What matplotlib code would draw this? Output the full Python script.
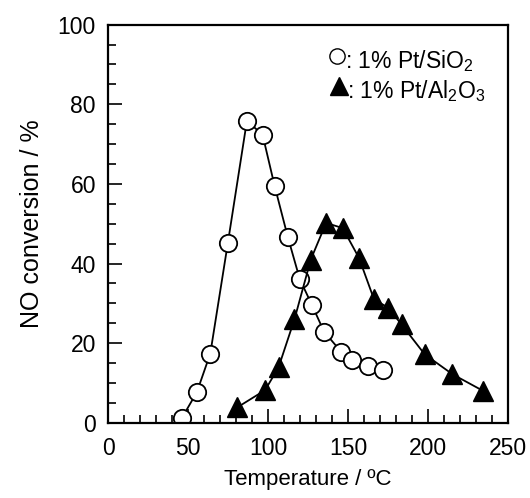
import matplotlib
matplotlib.use("Agg")
import matplotlib.pyplot as plt
from matplotlib.ticker import MultipleLocator

plt.rcParams['font.family'] = ['Liberation Sans', 'DejaVu Sans']
plt.rcParams['mathtext.fontset'] = 'custom'
plt.rcParams['mathtext.rm'] = 'Liberation Sans'

# 1% Pt/SiO2 (open circles)
sio2_temp = [46.0, 55.4, 63.8, 74.8, 86.7, 96.5, 104.0, 112.3, 119.8, 127.3, 135.0, 145.6, 152.3, 162.3, 172.0]
sio2_conv = [1.2, 7.7, 17.4, 45.2, 75.8, 72.4, 59.6, 46.7, 36.1, 29.7, 22.9, 17.9, 15.7, 14.2, 13.3]

# 1% Pt/Al2O3 (filled triangles)
al2o3_temp = [80.8, 98.1, 106.5, 116.5, 126.7, 136.3, 146.7, 156.9, 166.3, 175.2, 183.5, 198.0, 215.4, 234.2]
al2o3_conv = [3.9, 8.2, 13.9, 26.0, 41.0, 50.2, 48.9, 41.4, 31.0, 28.9, 24.7, 17.2, 12.2, 8.1]

legend_labels = [': 1% Pt/SiO$_\\mathregular{2}$', ': 1% Pt/Al$_\\mathregular{2}$O$_\\mathregular{3}$']

fig = plt.figure(figsize=(5.30, 4.98), dpi=100)
ax = fig.add_axes([0.2045, 0.151, 0.7535, 0.7995])

ax.plot(sio2_temp, sio2_conv, color='black', lw=1.3, marker='o', ms=12.5,
        mfc='white', mec='black', mew=1.3)
ax.plot(al2o3_temp, al2o3_conv, color='black', lw=1.3, marker='^', ms=14,
        mfc='black', mec='black')

ax.set_xlim(0, 250)
ax.set_ylim(0, 100)
ax.xaxis.set_major_locator(MultipleLocator(50))
ax.xaxis.set_minor_locator(MultipleLocator(10))
ax.yaxis.set_major_locator(MultipleLocator(20))
ax.yaxis.set_minor_locator(MultipleLocator(5))
ax.tick_params(which='both', direction='in', top=False, right=False,
               labelsize=16.5, width=1.2)
ax.tick_params(axis='x', pad=10)
ax.tick_params(axis='y', pad=9)
ax.tick_params(which='major', length=10)
ax.tick_params(which='minor', length=5.5)
for sp in ax.spines.values():
    sp.set_linewidth(1.6)

ax.set_xlabel('Temperature / ºC', fontsize=16, labelpad=7)
ax.set_ylabel('NO conversion / %', fontsize=18, labelpad=10)

# legend drawn as marker + text, as in the original figure
ax.plot([0.5725], [0.921], transform=ax.transAxes, marker='o', ms=11,
        mfc='white', mec='black', mew=1.0, clip_on=False)
ax.plot([0.5775], [0.847], transform=ax.transAxes, marker='^', ms=13,
        mfc='black', mec='black', clip_on=False)
ax.text(0.5925, 0.891, legend_labels[0], transform=ax.transAxes, ha='left',
        va='baseline', fontsize=16.5)
ax.text(0.5975, 0.816, legend_labels[1], transform=ax.transAxes, ha='left',
        va='baseline', fontsize=16.5)

fig.savefig('out.png', dpi=100)
